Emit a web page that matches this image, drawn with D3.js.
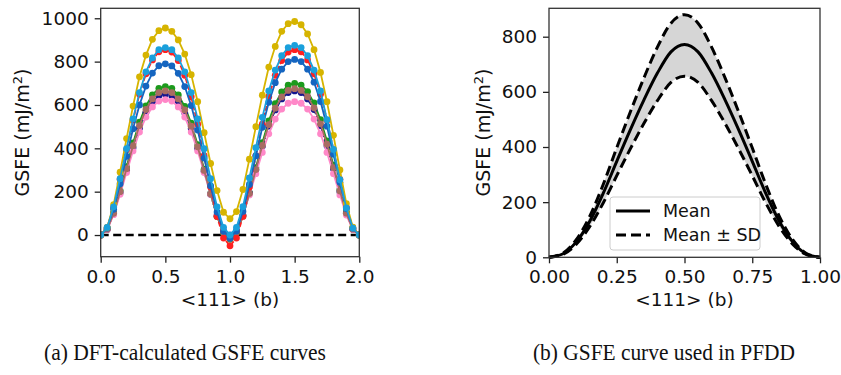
<!DOCTYPE html>
<meta charset="utf-8">
<head>
<script src="https://d3js.org/d3.v7.min.js"></script>
<style>
  body { margin: 0; background: #fff; }
  text { font-family: "DejaVu Sans", sans-serif; fill: #111; }
  .caption { font-family: "Liberation Serif", "Times New Roman", serif; }
</style>
</head>
<body>
<script>
// ---- (a) DFT-calculated GSFE curves, x in <111> (b), GSFE in mJ/m2
const xDFT = [0.00,0.05,0.10,0.15,0.20,0.25,0.30,0.35,0.40,0.45,0.50,
  0.55,0.60,0.65,0.70,0.75,0.80,0.85,0.90,0.95,1.00,
  1.05,1.10,1.15,1.20,1.25,1.30,1.35,1.40,1.45,1.50,
  1.55,1.60,1.65,1.70,1.75,1.80,1.85,1.90,1.95,2.00];

const gsfeGreen = [0,27,103,206,315,425,521,596,647,677,685, 677,646,593,516,417,304,192,86,8,-20,
  9,88,196,311,426,527,606,660,691,700, 692,662,609,532,434,322,210,105,28,0];
const gsfeNavy = [0,26,98,195,299,403,494,566,614,642,650, 642,614,564,492,399,294,188,89,16,-10,
  17,91,193,301,409,503,577,628,657,665, 657,628,579,505,412,306,200,100,27,0];
const gsfePink = [0,25,94,188,288,388,475,544,591,618,625, 618,591,544,475,388,288,188,94,25,0,
  25,92,185,283,381,467,535,581,608,615, 608,581,535,467,381,283,185,92,25,0];
const gsfeBrown = [0,27,100,200,306,412,505,579,628,657,665, 657,628,577,502,407,298,189,87,12,-15,
  13,89,192,302,413,509,585,637,667,675, 667,638,587,513,419,311,203,101,27,0];
const gsfeRed = [0,34,128,257,393,530,650,744,808,845,855, 844,805,737,638,511,366,222,86,-14,-50,
  -14,86,222,366,511,638,737,805,844,855, 845,808,744,650,530,393,257,128,34,0];
const gsfeBlue = [0,32,119,237,363,490,600,687,747,781,790, 780,746,685,597,484,355,227,106,17,-15,
  18,109,233,365,497,612,703,765,800,810, 800,765,705,616,502,373,243,122,32,0];
const gsfeGold = [0,35,140,290,445,595,730,830,903,943,955, 940,900,835,740,615,472,330,205,105,75,
  108,210,350,500,645,775,870,940,975,985, 970,928,855,750,615,460,300,145,36,0];
const gsfeLightBlue = [0,35,130,260,398,536,657,753,817,855,865, 855,817,753,657,536,398,260,130,35,0,
  35,131,263,403,543,665,761,827,865,875, 865,827,761,665,532,395,255,125,32,0];

const xTicksA = [0, 0.5, 1.0, 1.5, 2.0];
const yTicksA = [0, 200, 400, 600, 800, 1000];

// ---- (b) GSFE curve used in PFDD
const xPFDD = [0.00,0.05,0.10,0.15,0.20,0.25,0.30,0.35,0.40,0.45,0.50,
  0.55,0.60,0.65,0.70,0.75,0.80,0.85,0.90,0.95,1.00];
const gsfeMean = [0,12,55,130,232,348,462,570,668,745,772, 745,668,570,462,348,232,130,55,12,0];
const gsfeUpper = [0,14,63,148,264,397,527,650,762,849,880, 849,762,650,527,397,264,148,63,14,0];
const gsfeLower = [0,10,47,111,197,296,393,485,568,634,657, 634,568,485,393,296,197,111,47,10,0];

const xTicksB = [0, 0.25, 0.5, 0.75, 1.0];
const yTicksB = [0, 200, 400, 600, 800];

// ---- drawing
const svg = d3.select("body").append("svg")
  .attr("width", 841).attr("height", 375);

const fs = 18.5;

function axisFrame(g, x, y, xTicks, yTicks, xFmt) {
  g.append("g")
    .attr("transform", `translate(0,${y.range()[0]})`)
    .call(d3.axisBottom(x).tickValues(xTicks).tickFormat(d3.format(xFmt))
      .tickSize(6).tickPadding(7))
    .call(a => a.select(".domain").remove())
    .call(a => a.selectAll("text").style("font-size", fs + "px"))
    .call(a => a.selectAll("line").attr("stroke", "#222").attr("stroke-width", 1.3));
  g.append("g")
    .attr("transform", `translate(${x.range()[0]},0)`)
    .call(d3.axisLeft(y).tickValues(yTicks).tickFormat(d3.format("d"))
      .tickSize(6).tickPadding(6))
    .call(a => a.select(".domain").remove())
    .call(a => a.selectAll("text").style("font-size", fs + "px"))
    .call(a => a.selectAll("line").attr("stroke", "#222").attr("stroke-width", 1.3));
  g.append("rect")
    .attr("x", x.range()[0]).attr("y", y.range()[1])
    .attr("width", x.range()[1] - x.range()[0])
    .attr("height", y.range()[0] - y.range()[1])
    .attr("fill", "none").attr("stroke", "#333").attr("stroke-width", 1.3);
}

function yLabel(g, cx, cy) {
  const t = g.append("text")
    .attr("transform", `translate(${cx},${cy}) rotate(-90)`)
    .attr("text-anchor", "middle")
    .style("font-size", "19px");
  t.append("tspan").text("GSFE (mJ/m");
  t.append("tspan").attr("dy", -7).style("font-size", "13px").text("2");
  t.append("tspan").attr("dy", 7).text(")");
}

// panel (a)
const xA = d3.scaleLinear().domain([0, 2]).range([100.7, 359.3]);
const yA = d3.scaleLinear().domain([-100, 1046]).range([256.7, 8.3]);
const gA = svg.append("g");

svg.append("clipPath").attr("id", "clipA").append("rect")
  .attr("x", xA.range()[0]).attr("y", yA.range()[1])
  .attr("width", xA.range()[1] - xA.range()[0])
  .attr("height", yA.range()[0] - yA.range()[1]);

const dftSeries = [
  { values: gsfeGreen, color: "#1c9a1c", dash: null },
  { values: gsfeNavy, color: "#14148e", dash: "5,2,1.5,2" },
  { values: gsfePink, color: "#ff88c8", dash: null },
  { values: gsfeBrown, color: "#a86c62", dash: null },
  { values: gsfeRed, color: "#ff2020", dash: "5,2" },
  { values: gsfeBlue, color: "#1565c0", dash: null },
  { values: gsfeGold, color: "#d6b400", dash: null },
  { values: gsfeLightBlue, color: "#1aa0dc", dash: null }
];

const lineA = d3.line().x((d, i) => xA(xDFT[i])).y(d => yA(d));
const plotA = gA.append("g").attr("clip-path", "url(#clipA)");

plotA.append("line")
  .attr("x1", xA(0)).attr("x2", xA(2))
  .attr("y1", yA(0)).attr("y2", yA(0))
  .attr("stroke", "#000").attr("stroke-width", 2.4)
  .attr("stroke-dasharray", "8,4.5");

dftSeries.forEach(s => {
  const sg = plotA.append("g");
  sg.append("path").attr("d", lineA(s.values))
    .attr("fill", "none").attr("stroke", s.color).attr("stroke-width", 1.8)
    .attr("stroke-dasharray", s.dash);
  sg.selectAll("circle").data(s.values).join("circle")
    .attr("cx", (d, i) => xA(xDFT[i])).attr("cy", d => yA(d))
    .attr("r", 3.4).attr("fill", s.color);
});

axisFrame(gA, xA, yA, xTicksA, yTicksA, ".1f");
yLabel(gA, 29, 132.5);
gA.append("text").attr("x", 230).attr("y", 306).attr("text-anchor", "middle")
  .style("font-size", fs + "px").text("<111> (b)");

// panel (b)
const xB = d3.scaleLinear().domain([0, 1]).range([549, 820]);
const yB = d3.scaleLinear().domain([0, 903]).range([257.3, 8.3]);
const gB = svg.append("g");

const bandB = d3.area().curve(d3.curveMonotoneX)
  .x((d, i) => xB(xPFDD[i]))
  .y0((d, i) => yB(gsfeLower[i]))
  .y1(d => yB(d));
const lineB = d3.line().curve(d3.curveMonotoneX)
  .x((d, i) => xB(xPFDD[i])).y(d => yB(d));

gB.append("path").attr("d", bandB(gsfeUpper)).attr("fill", "#d6d6d6");
gB.append("path").attr("d", lineB(gsfeUpper)).attr("fill", "none")
  .attr("stroke", "#000").attr("stroke-width", 3).attr("stroke-dasharray", "10,5");
gB.append("path").attr("d", lineB(gsfeLower)).attr("fill", "none")
  .attr("stroke", "#000").attr("stroke-width", 3).attr("stroke-dasharray", "10,5");
gB.append("path").attr("d", lineB(gsfeMean)).attr("fill", "none")
  .attr("stroke", "#000").attr("stroke-width", 3);

axisFrame(gB, xB, yB, xTicksB, yTicksB, ".2f");
yLabel(gB, 490, 132.5);
gB.append("text").attr("x", 684.5).attr("y", 306).attr("text-anchor", "middle")
  .style("font-size", fs + "px").text("<111> (b)");

// legend
const leg = gB.append("g").attr("transform", "translate(610,197)");
leg.append("rect").attr("width", 150).attr("height", 53).attr("rx", 3)
  .attr("fill", "#fff").attr("fill-opacity", 0.85)
  .attr("stroke", "#ccc").attr("stroke-width", 1);
leg.append("line").attr("x1", 6).attr("x2", 40).attr("y1", 14).attr("y2", 14)
  .attr("stroke", "#000").attr("stroke-width", 3);
leg.append("line").attr("x1", 6).attr("x2", 40).attr("y1", 38).attr("y2", 38)
  .attr("stroke", "#000").attr("stroke-width", 3).attr("stroke-dasharray", "10,5");
leg.append("text").attr("x", 53).attr("y", 20).style("font-size", "17.5px").text("Mean");
leg.append("text").attr("x", 53).attr("y", 44).style("font-size", "17.5px").text("Mean ± SD");

// captions
svg.append("text").attr("class", "caption")
  .attr("x", 44).attr("y", 360).style("font-size", "24px")
  .attr("textLength", 282).attr("lengthAdjust", "spacingAndGlyphs")
  .text("(a) DFT-calculated GSFE curves");
svg.append("text").attr("class", "caption")
  .attr("x", 533).attr("y", 360).style("font-size", "24px")
  .attr("textLength", 262).attr("lengthAdjust", "spacingAndGlyphs")
  .text("(b) GSFE curve used in PFDD");
</script>
</body>
</html>
